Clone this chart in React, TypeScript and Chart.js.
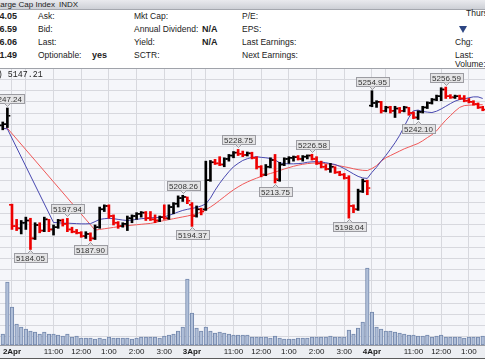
import React, { useEffect, useRef } from 'react';
import { Chart, registerables } from 'chart.js';
Chart.register(...registerables);

// ---- data (10-minute bars, index 0 = 2 Apr 9:30; first bar is index -2) ----
const START_INDEX = -2;
const OPEN = [
  5239.5, 5240, 5204, 5194.5, 5193.5, 5196, 5197, 5189, 5195, 5192.5,
  5197.5, 5193, 5194, 5197, 5195.5, 5193, 5192, 5191.5, 5190, 5191,
  5189, 5194, 5202, 5203.5, 5199, 5196, 5194.5, 5195.5, 5198, 5199,
  5200, 5200.5, 5198, 5197.5, 5197, 5198.5, 5198, 5203, 5204.5, 5207,
  5207.5, 5204, 5199, 5202, 5202, 5215, 5223, 5222.5, 5222, 5224.5,
  5226, 5227.3, 5226.8, 5226.3, 5227, 5225, 5221, 5217.5, 5221, 5224,
  5215, 5222, 5224.5, 5225, 5225.3, 5224.5, 5225.5, 5226, 5224.5, 5222.5,
  5221, 5220, 5221, 5218.5, 5217.5, 5216, 5203.5, 5202, 5210, 5214.5,
  5248.3, 5249.5, 5250, 5246, 5247.5, 5246, 5247, 5246, 5247.5, 5245,
  5243, 5245.5, 5247.5, 5249.5, 5251, 5252.5, 5255.5, 5252.5, 5252, 5252.5,
  5251.5, 5250.5, 5250, 5249, 5247.5,
];
const HIGH = [
  5241, 5247.24, 5204.3, 5197.5, 5197, 5198.5, 5198, 5196, 5196, 5198.5,
  5197.5, 5195, 5197.5, 5197.6, 5197.94, 5194, 5193, 5192, 5192, 5191.5,
  5195, 5203, 5204, 5204, 5199.5, 5196.5, 5196, 5199, 5199.5, 5200.5,
  5201, 5201, 5201, 5199.5, 5199, 5204, 5204, 5205, 5208, 5208.26,
  5207.5, 5205, 5203.5, 5202.5, 5223.5, 5223.8, 5224.3, 5225.5, 5225, 5226.5,
  5227.8, 5228.75, 5228, 5227.6, 5227.5, 5225.5, 5221.5, 5222, 5225, 5226.5,
  5223, 5225, 5225.5, 5225.8, 5226, 5226, 5226.3, 5226.58, 5225.5, 5223.5,
  5222, 5222.5, 5221, 5219, 5218, 5217, 5204, 5211, 5215.5, 5215,
  5254.95, 5250.5, 5250.2, 5248, 5248, 5248, 5247.5, 5248, 5247.5, 5245.5,
  5246, 5248, 5250, 5251.5, 5253, 5256.3, 5256.59, 5253.2, 5253, 5253,
  5252.8, 5251.5, 5250.5, 5249.5, 5248,
];
const LOW = [
  5237.5, 5238.5, 5193, 5192.5, 5191, 5193, 5184.05, 5188.5, 5191.5, 5192,
  5192, 5190.5, 5193.5, 5194.5, 5192, 5191.5, 5191, 5189.5, 5189, 5187.9,
  5188.5, 5193.5, 5201, 5198, 5195, 5193.5, 5194, 5192.5, 5196, 5197.5,
  5198.5, 5197, 5197, 5196, 5196.5, 5197.5, 5197.5, 5200, 5203, 5205.5,
  5204.5, 5194.37, 5198.5, 5199.5, 5201.5, 5214.5, 5222, 5221.5, 5221, 5223.5,
  5225, 5226, 5225.5, 5225.8, 5224.5, 5220, 5216.5, 5217, 5220.5, 5213.75,
  5214.5, 5221.5, 5222.5, 5223.5, 5224, 5223.5, 5224.5, 5224, 5222, 5220.5,
  5219.5, 5218.5, 5218, 5217, 5215.5, 5198.04, 5200.5, 5201.5, 5209.5, 5208.5,
  5247.8, 5247.5, 5245, 5245.5, 5245, 5243, 5245, 5245.5, 5244, 5242.5,
  5242.1, 5245, 5247, 5249, 5250.5, 5250.5, 5251.5, 5251.5, 5251.5, 5251,
  5250, 5249.5, 5248.5, 5247, 5246,
];
const CLOSE = [
  5240, 5243.77, 5194.5, 5193.5, 5196, 5197, 5189, 5195, 5192.5, 5197.5,
  5193, 5194, 5197, 5195.5, 5193, 5192, 5191.5, 5190, 5191, 5189,
  5194, 5202, 5203.5, 5199, 5196, 5194.5, 5195.5, 5198, 5199, 5200,
  5200.5, 5198, 5197.5, 5197, 5198.5, 5198, 5203, 5204.5, 5207, 5207.5,
  5205.81, 5199, 5202, 5201, 5215, 5223, 5222.5, 5222, 5224.5, 5226,
  5227.3, 5226.8, 5226.3, 5227, 5225, 5221, 5217.5, 5221, 5224, 5215.5,
  5222, 5224.5, 5225, 5225.3, 5224.5, 5225.5, 5226, 5224.5, 5222.5, 5221,
  5220, 5221, 5218.5, 5217.5, 5216, 5203.5, 5202, 5210, 5214.5, 5211.49,
  5249.5, 5250, 5246, 5247.5, 5246, 5247, 5246, 5247.5, 5245, 5243,
  5245.5, 5247.5, 5249.5, 5251, 5252.5, 5255.5, 5252.5, 5252, 5252.5, 5251.5,
  5250.5, 5250, 5249, 5247.5, 5246.5,
];
const VOLUME = [
  44, 252, 152, 84, 72, 64, 56, 52, 44, 52,
  44, 44, 40, 36, 44, 32, 36, 28, 28, 28,
  24, 28, 24, 32, 28, 28, 28, 28, 24, 28,
  32, 32, 32, 32, 28, 36, 40, 44, 56, 72,
  264, 128, 68, 56, 72, 56, 48, 52, 48, 44,
  40, 40, 40, 40, 32, 32, 32, 32, 28, 36,
  28, 24, 24, 24, 28, 28, 28, 32, 32, 32,
  32, 36, 32, 32, 32, 60, 44, 68, 92, 308,
  132, 72, 64, 56, 56, 52, 48, 44, 40, 40,
  36, 36, 40, 32, 36, 40, 32, 32, 32, 32,
  28, 32, 32, 32, 36,
];
const MA_FAST = [
  5238.2, 5237.9, null, null, null, null, null, null, null, null,
  null, 5196.1, 5196, 5195.8, 5195.8, 5195.7, 5195.6, 5195.5, 5195.5, 5195.6,
  5196.5, 5197.5, 5197.8, 5198, 5197.8, 5197.5, 5197.2, 5197, 5197.2, 5197.5,
  5197.8, 5198, 5198.2, 5198.3, 5198.3, 5198.6, 5199.3, 5200, 5200.8, 5201.5,
  5202, 5202.4, 5202.8, 5203.5, 5204.4, 5207, 5210.5, 5213.6, 5216.3, 5218.8,
  5221, 5222.5, 5223.8, 5224.6, 5225.2, 5225.5, 5225.2, 5225, 5224.7, 5224,
  5222.8, 5222.4, 5222.3, 5222.3, 5222.4, 5222.6, 5223, 5223.2, 5223.3, 5223.1,
  5222.8, 5222.4, 5222, 5221.2, 5220.2, 5219, 5217.8, 5216.7, 5216, 5215.8,
  5218.5, 5220.8, 5223.5, 5226, 5228.8, 5231.7, 5235, 5239, 5243, 5246,
  5246.3, 5245.7, 5245.4, 5245.2, 5245.8, 5246.8, 5248, 5249.2, 5250.3, 5251,
  5251.3, 5251.8, 5252.2, 5252.2, 5251.5,
];
const MA_SLOW = [
  5238, 5238.2, null, null, null, null, null, null, null, null,
  null, null, null, null, null, null, null, null, null, null,
  5192.7, 5193, 5193.3, 5193.6, 5193.9, 5194.2, 5194.5, 5194.7, 5194.9, 5195.1,
  5195.3, 5195.5, 5195.7, 5196.1, 5196.6, 5197, 5197.4, 5197.8, 5198.2, 5198.6,
  5199, 5199.5, 5200, 5200.8, 5201.8, 5203, 5204.4, 5206, 5207.6, 5209.2,
  5210.7, 5212, 5213.2, 5214.2, 5215.1, 5215.9, 5216.7, 5217.4, 5218, 5218.6,
  5219.3, 5220, 5220.6, 5221.2, 5221.7, 5222.1, 5222.4, 5222.6, 5222.7, 5222.6,
  5222.4, 5222.1, 5221.8, 5221.4, 5221, 5220.6, 5220.1, 5219.7, 5219.4, 5219.3,
  5220.2, 5221.5, 5223.5, 5225, 5226, 5227, 5228, 5229, 5229.8, 5230.6,
  5231.4, 5232.6, 5234, 5235.3, 5237, 5239.5, 5241.8, 5243.8, 5245.8, 5247.5,
  5248.3, 5248.5, 5248.6, 5248.7, 5248.7,
];
const MARK_INDEX = [-1, 4, 12, 17, 37, 39, 49, 57, 65, 73, 78, 88, 94];
const MARK_VALUE = [5247.24, 5184.05, 5197.94, 5187.9, 5208.26, 5194.37, 5228.75, 5213.75, 5226.58, 5198.04, 5254.95, 5242.1, 5256.59];
const MARK_SIDE = ['above', 'below', 'above', 'below', 'above', 'below', 'above', 'below', 'above', 'below', 'above', 'below', 'above'];
const TICK_POS = [0, 3, 9, 15, 21, 27, 33, 39, 42, 48, 54, 60, 66, 72, 78, 81, 87, 93, 99];
const TICK_LABELS = ['2Apr', '', '11:00', '12:00', '1:00', '2:00', '3:00', '3Apr', '', '11:00', '12:00', '1:00', '2:00', '3:00', '4Apr', '', '11:00', '12:00', '1:00'];

const X_MIN = -2.6;
const X_MAX = 102.5;
const PRICE_MIN = 5141.4;
const PRICE_MAX = 5265.1;
const VOL_MAX = 1108;

const FONT = '"Liberation Sans", Arial, sans-serif';

const bgPlugin = {
  id: 'bg',
  beforeDraw(chart: any) {
    const { ctx, chartArea, width, height } = chart;
    ctx.save();
    ctx.fillStyle = '#eceef2';
    ctx.fillRect(0, 0, width, height);
    ctx.fillStyle = '#f5f6fa';
    ctx.fillRect(chartArea.left, chartArea.top, chartArea.right - chartArea.left, chartArea.bottom - chartArea.top);
    ctx.fillStyle = '#5a5a5a';
    ctx.fillRect(0, height - 2, width, 1);
    ctx.fillStyle = '#ffffff';
    ctx.fillRect(0, height - 1, width, 1);
    ctx.restore();
  },
  afterDraw(chart: any) {
    const { ctx, chartArea } = chart;
    ctx.save();
    ctx.fillStyle = '#a0a3aa';
    ctx.fillRect(chartArea.left, chartArea.top, chartArea.right - chartArea.left, 1);
    ctx.restore();
  },
};

const markPlugin = {
  id: 'marks',
  afterDatasetsDraw(chart: any) {
    const { ctx } = chart;
    const xs = chart.scales.x;
    const ys = chart.scales.y;
    ctx.save();
    ctx.font = '8px ' + FONT;
    ctx.textAlign = 'center';
    ctx.textBaseline = 'middle';
    MARK_INDEX.forEach((idx, k) => {
      const x = Math.round(xs.getPixelForValue(idx)) + 0.5;
      const y = ys.getPixelForValue(MARK_VALUE[k]);
      const text = MARK_VALUE[k].toFixed(2);
      const w = Math.round(ctx.measureText(text).width) + 4;
      const h = 9;
      const above = MARK_SIDE[k] === 'above';
      const gap = 4;
      const bx = Math.round(x - w / 2) + 0.5;
      const by = above ? Math.round(y - gap - h) - 0.5 : Math.round(y + gap) + 0.5;
      ctx.fillStyle = '#e4e4e6';
      ctx.strokeStyle = '#9c9ca2';
      ctx.lineWidth = 1;
      ctx.fillRect(bx, by, w, h);
      ctx.strokeRect(bx, by, w, h);
      ctx.beginPath();
      if (above) {
        ctx.moveTo(x - 3, by + h);
        ctx.lineTo(x, by + h + 3);
        ctx.lineTo(x + 3, by + h);
      } else {
        ctx.moveTo(x - 3, by);
        ctx.lineTo(x, by - 3);
        ctx.lineTo(x + 3, by);
      }
      ctx.fillStyle = '#e4e4e6';
      ctx.fill();
      ctx.stroke();
      ctx.fillStyle = '#333';
      ctx.fillText(text, x, by + h / 2 + 0.5);
    });
    ctx.restore();
  },
};

function buildConfig() {
  const idx = OPEN.map((_, k) => START_INDEX + k);
  const colors = CLOSE.map((c, k) => (k === 0 || c >= CLOSE[k - 1] ? '#000000' : '#ee0000'));
  const hl = idx.map((x, k) => ({ x, y: [LOW[k], HIGH[k]] }));
  const opens = idx.map((x, k) => ({ x: x - 0.42, y: OPEN[k] }));
  const closes = idx.map((x, k) => ({ x: x + 0.42, y: CLOSE[k] }));
  const vols = idx.map((x, k) => ({ x, y: VOLUME[k] }));
  const fast = idx.map((x, k) => ({ x, y: MA_FAST[k] }));
  const slow = idx.map((x, k) => ({ x, y: MA_SLOW[k] }));
  return {
    type: 'bar',
    data: {
      datasets: [
        { type: 'bar', data: vols, yAxisID: 'y1', backgroundColor: '#b0bfd8', borderColor: '#7488ad', borderWidth: 1, borderSkipped: false, barThickness: 3.6, grouped: false, order: 6 },
        { type: 'line', data: slow, yAxisID: 'y', borderColor: '#f05858', borderWidth: 1, pointRadius: 0, spanGaps: true, tension: 0, order: 5 },
        { type: 'line', data: fast, yAxisID: 'y', borderColor: '#4848b0', borderWidth: 1, pointRadius: 0, spanGaps: true, tension: 0, order: 4 },
        { type: 'bar', data: hl, yAxisID: 'y', backgroundColor: colors, borderWidth: 0, barThickness: 2, grouped: false, order: 3 },
        { type: 'line', data: opens, yAxisID: 'y', showLine: false, pointStyle: 'line', pointRadius: 1, pointBorderWidth: 1.6, pointBorderColor: colors, order: 2 },
        { type: 'line', data: closes, yAxisID: 'y', showLine: false, pointStyle: 'line', pointRadius: 1, pointBorderWidth: 1.6, pointBorderColor: colors, order: 1 },
      ],
    },
    options: {
      responsive: false,
      animation: false,
      events: [],
      layout: { padding: 0, autoPadding: false },
      plugins: { legend: { display: false }, tooltip: { enabled: false } },
      scales: {
        x: {
          type: 'linear',
          offset: false,
          min: X_MIN,
          max: X_MAX,
          afterBuildTicks: (s: any) => { s.ticks = TICK_POS.map((v) => ({ value: v })); },
          afterFit: (s: any) => { s.height = 15; },
          ticks: {
            autoSkip: false,
            maxRotation: 0,
            padding: 2,
            color: '#1a1a1a',
            callback: (_v: any, i: number) => TICK_LABELS[i],
            font: (c: any) => ({ family: FONT, size: 8, weight: /Apr/.test(TICK_LABELS[c.index] || '') ? 'bold' : 'normal' }),
          },
          grid: { color: '#d7d8de', drawTicks: false, offset: false },
          border: { display: true, color: '#9a9ca3' },
        },
        y: {
          type: 'linear',
          position: 'right',
          min: PRICE_MIN,
          max: PRICE_MAX,
          afterBuildTicks: (s: any) => { s.ticks = s.ticks.filter((t: any) => Math.abs(t.value / 5 - Math.round(t.value / 5)) < 1e-6); },
          afterFit: (s: any) => { s.width = 0; },
          ticks: { display: false, stepSize: 5, includeBounds: false },
          grid: { color: '#d7d8de', drawTicks: false },
          border: { display: false },
        },
        y1: { display: false, min: 0, max: VOL_MAX },
      },
    },
    plugins: [bgPlugin, markPlugin],
  };
}

const T = (x: number, y: number, text: string, o: any = {}) => (
  <div style={{
    position: 'absolute', left: x, top: y - 5, lineHeight: '10px', fontSize: o.size || 8.5,
    fontWeight: o.bold ? 'bold' : 'normal', whiteSpace: 'nowrap', color: o.color || '#222',
    transform: o.right ? 'translateX(-100%)' : undefined, fontFamily: o.mono ? '"Liberation Mono", monospace' : FONT,
  }}>{text}</div>
);

export default function App() {
  const ref = useRef<HTMLCanvasElement>(null);
  useEffect(() => {
    document.body.style.margin = '0';
    const chart = new Chart(ref.current as HTMLCanvasElement, buildConfig() as any);
    return () => chart.destroy();
  }, []);
  const rA = 16, rB = 29, rC = 42, rD = 55;
  return (
    <div style={{ position: 'relative', width: 485, height: 360, overflow: 'hidden', background: '#ffffff', fontFamily: FONT }}>
      <div style={{ position: 'absolute', left: 0, top: 0, width: 485, height: 9, background: 'linear-gradient(#e9eaee, #cdd0d6)', borderBottom: '1px solid #a4a7ae' }} />
      {T(55, 5, 'S&P 500 Large Cap Index', { right: true, size: 8 })}
      {T(59, 5, 'INDX', { size: 8 })}
      {T(17, rA, '5244.05', { right: true, bold: true, size: 9 })}
      {T(17, rB, '5256.59', { right: true, bold: true, size: 9 })}
      {T(17, rC, '5146.06', { right: true, bold: true, size: 9 })}
      {T(17, rD, '5211.49', { right: true, bold: true, size: 9 })}
      {T(38, rA, 'Ask:')}
      {T(38, rB, 'Bid:')}
      {T(38, rC, 'Last:')}
      {T(38, rD, 'Optionable:')}
      {T(92, rD, 'yes', { bold: true, size: 9 })}
      {T(134, rA, 'Mkt Cap:')}
      {T(134, rB, 'Annual Dividend:')}
      {T(202, rB, 'N/A', { bold: true, size: 9 })}
      {T(134, rC, 'Yield:')}
      {T(202, rC, 'N/A', { bold: true, size: 9 })}
      {T(134, rD, 'SCTR:')}
      {T(242, rA, 'P/E:')}
      {T(242, rB, 'EPS:')}
      {T(242, rC, 'Last Earnings:')}
      {T(242, rD, 'Next Earnings:')}
      {T(466, 13, 'Thursday, April 4, 2024')}
      <div style={{ position: 'absolute', left: 459, top: 26, width: 0, height: 0, borderLeft: '4px solid transparent', borderRight: '4px solid transparent', borderTop: '7px solid #2c4582' }} />
      {T(455, rC, 'Chg:')}
      {T(455, rD, 'Last:')}
      {T(455, 64, 'Volume:')}
      <div style={{ position: 'absolute', left: 0, top: 68, width: 485, height: 292 }}>
        <canvas ref={ref} width={485} height={292} style={{ display: 'block', width: 485, height: 292 }} />
      </div>
      {T(-37, 75, '(10 Min) 5147.21', { mono: true, size: 8.3 })}
    </div>
  );
}
